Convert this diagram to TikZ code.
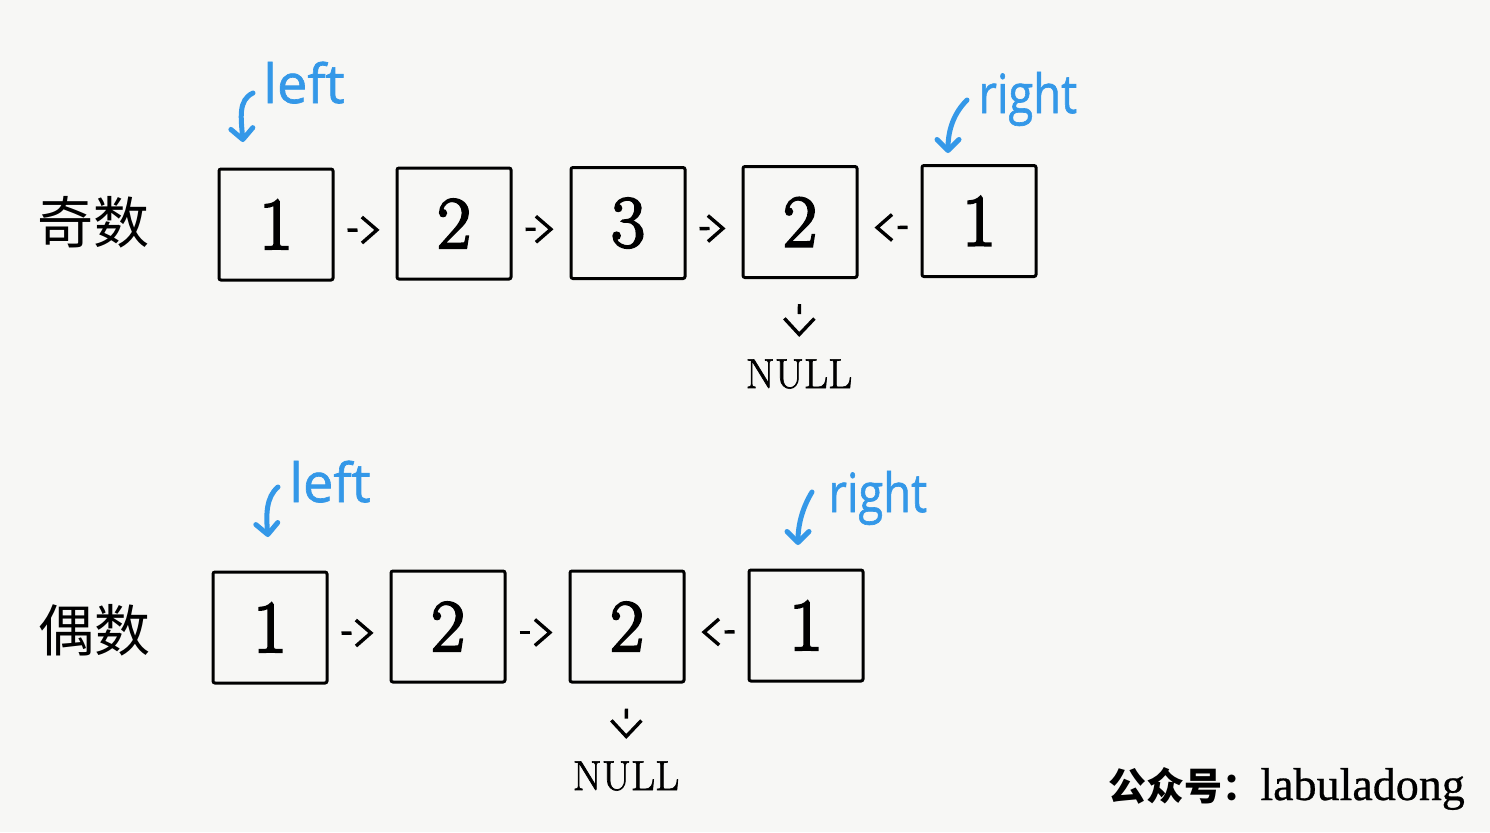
\documentclass[tikz,border=0pt]{standalone}
\usepackage{fontspec}
\usepackage{graphicx}
\usetikzlibrary{arrows.meta}
\newfontfamily\cjk{Noto Sans CJK SC}
\newfontfamily\handfont[FakeBold=1.2]{Open Sans}
\newfontfamily\markfont[FakeBold=0.6]{Liberation Serif}
\newfontfamily\digitfont[FakeBold=3]{Latin Modern Roman}
\newfontfamily\nilfont[FakeBold=1.5]{Latin Modern Roman}
\definecolor{paper}{RGB}{247,247,245}
\definecolor{penblue}{RGB}{52,152,232}

\begin{document}
\begin{tikzpicture}[x=0.5pt,y=0.5pt,yscale=-1,
	cell/.style={draw,line width=1.5pt,rounded corners=1pt,minimum width=57pt,minimum height=55.5pt,inner sep=0pt,font=\digitfont\fontsize{37}{40}\selectfont},
	link/.style={line width=1.7pt,dash pattern=on 5pt off 40pt,shorten <=6.5pt,shorten >=8pt,transform canvas={yshift=-3pt},-{Straight Barb[length=7.5pt,width=13pt]}},
	nulllink/.style={line width=1.7pt,dash pattern=on 5pt off 40pt,shorten <=12.5pt,shorten >=11pt,-{Straight Barb[length=8pt,width=15pt]}},
	nullbox/.style={inner sep=0pt,font=\nilfont\fontsize{21}{24}\selectfont},
	hand/.style={inner sep=0pt,text=penblue,font=\handfont\fontsize{27}{30}\selectfont},
	pen/.style={draw=penblue,line width=2.5pt,line cap=round,-{Straight Barb[length=5.5pt,width=11pt,round]}},
	rowlabel/.style={inner sep=0pt,font=\cjk\fontsize{28}{32}\selectfont}]
	%Background
	\fill [paper] (0,0) rectangle (1490,832);
	\useasboundingbox (0,0) rectangle (1490,832);
	
	%odd list
	\draw (94,222) node (odd) [rowlabel] {奇数};
	\draw (276,224.5) node (o1) [cell] {1};
	\draw (454,223.5) node (o2) [cell] {2};
	\draw (628,223) node (o3) [cell] {3};
	\draw (800,222) node (o4) [cell] {2};
	\draw (979,221) node (o5) [cell] {1};
	\draw (799,374) node (n1) [nullbox] {NULL};
	\draw [link] (o1) -- (o2);
	\draw [link] (o2) -- (o3);
	\draw [link] (o3) -- (o4);
	\draw [link] (o5) -- (o4);
	\draw [nulllink] (o4) -- (n1);
	% Text Node
	\draw (263,103) node (lf1) [hand,anchor=base west] {left};
	\draw (978,113) node (rt1) [hand,anchor=base west] {\scalebox{0.84}[1]{right}};
	\coordinate (lf1s) at (253,93);
	\coordinate (lf1e) at (243,142);
	\coordinate (rt1s) at (967,100);
	\coordinate (rt1e) at (948,153);
	\draw [pen] (lf1s) .. controls (238,100) and (241,118) .. (lf1e);
	\draw [pen] (rt1s) .. controls (955,112) and (948,128) .. (rt1e);
	
	%even list
	\draw (95,630) node (even) [rowlabel] {偶数};
	\draw (270,627.5) node (e1) [cell] {1};
	\draw (448,626.5) node (e2) [cell] {2};
	\draw (627,626.5) node (e3) [cell] {2};
	\draw (806,625.5) node (e4) [cell] {1};
	\draw (626,776) node (n2) [nullbox] {NULL};
	\draw [link] (e1) -- (e2);
	\draw [link] (e2) -- (e3);
	\draw [link] (e4) -- (e3);
	\draw [nulllink] (e3) -- (n2);
	% Text Node
	\draw (289,502) node (lf2) [hand,anchor=base west] {left};
	\draw (828,512) node (rt2) [hand,anchor=base west] {\scalebox{0.84}[1]{right}};
	\coordinate (lf2s) at (278,487);
	\coordinate (lf2e) at (268,537);
	\coordinate (rt2s) at (812,492);
	\coordinate (rt2e) at (798,545);
	\draw [pen] (lf2s) .. controls (266,497) and (266,515) .. (lf2e);
	\draw [pen] (rt2s) .. controls (804,505) and (798,522) .. (rt2e);
	
	% Text Node
	\draw (1108,800) node (mark) [inner sep=0pt,anchor=base west] {{\cjk\bfseries\fontsize{19}{22}\selectfont 公众号：}{\markfont\fontsize{23}{26}\selectfont labuladong}};
\end{tikzpicture}
\end{document}
